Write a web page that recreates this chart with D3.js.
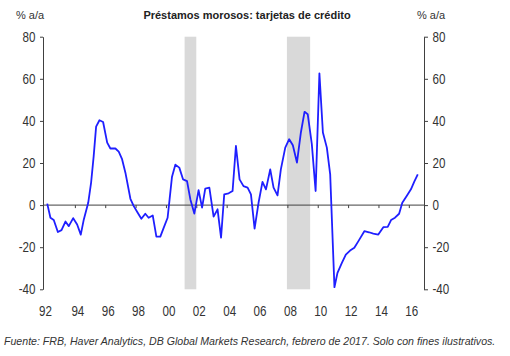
<!DOCTYPE html>
<html><head><meta charset="utf-8">
<script src="https://cdn.jsdelivr.net/npm/d3@7"></script>
<style>
html,body{margin:0;padding:0;background:#fff;}
svg{display:block;}
</style>
</head><body>
<script>
// ---- data ----
const years = [1992.18,1992.39,1992.61,1992.88,1993.12,1993.38,1993.60,1993.89,1994.15,1994.39,1994.59,1994.88,
1995.07,1995.24,1995.40,1995.62,1995.86,1996.13,1996.34,1996.67,1996.89,1997.11,1997.33,1997.66,1997.88,
1998.14,1998.38,1998.64,1998.86,1999.13,1999.37,1999.63,1999.85,2000.11,2000.24,2000.40,2000.62,2000.88,
2001.13,2001.39,2001.61,2001.87,2002.15,2002.38,2002.59,2002.86,2003.14,2003.40,2003.63,2003.84,
2004.13,2004.39,2004.61,2004.85,2005.11,2005.38,2005.60,2005.84,2006.10,2006.36,2006.59,2006.87,
2007.09,2007.35,2007.57,2007.86,2008.12,2008.36,2008.63,2008.89,2009.13,2009.34,2009.61,2009.86,
2010.11,2010.34,2010.60,2010.82,2011.10,2011.30,2011.59,2011.85,2012.13,2012.41,2012.68,
2013.07,2013.38,2013.66,2013.99,2014.32,2014.61,2014.83,2015.09,2015.36,2015.57,2015.86,
2016.14,2016.36,2016.59];
const values = [0.7,-6,-7.1,-12.8,-11.9,-7.8,-10,-6.2,-9.2,-14,-6.8,1.1,
10.7,23.3,37.3,40.3,39.5,29.7,26.9,26.9,25.4,21.8,15.4,3,-0.5,
-3.6,-6.5,-4.1,-6,-4.9,-15,-15,-10.8,-6,2.7,13.5,19.2,17.8,
12.2,11.4,2.7,-4,7.1,-1.2,7.8,8.3,-5.5,-2,-15.5,5.1,
5.6,6.7,28.1,12.2,9,8.3,5.1,-11.2,1.1,11,7.5,17,
8.3,4.6,17,27.3,31.3,28.4,20.2,34.5,44.3,43.2,29,6.7,
62.6,34.5,27.3,14.6,-39,-32.2,-27.4,-23.5,-21.6,-20.3,-17.1,
-12.4,-12.9,-13.5,-14,-10.5,-10.3,-7.1,-6,-4.1,1.1,4.3,
7.5,11.1,14.6];
const recessionStart = [2001.23, 2007.97];
const recessionEnd   = [2002.0, 2009.5];
const xTickYears = [1992,1994,1996,1998,2000,2002,2004,2006,2008,2010,2012,2014,2016];
const xTickLabels = ["92","94","96","98","00","02","04","06","08","10","12","14","16"];
const yTicks = [-40,-20,0,20,40,60,80];
const yTickLabels = ["-40","-20","0","20","40","60","80"];
const title = "Préstamos morosos: tarjetas de crédito";
const unitLabel = "% a/a";
const source = "Fuente: FRB, Haver Analytics, DB Global Markets Research, febrero de 2017. Solo con fines ilustrativos.";

// ---- layout ----
const W = 510, H = 356;
const leftX = 43, rightX = 424;
const x = d3.scaleLinear().domain([1992, 2017]).range([44.5, 424]);
const y = d3.scaleLinear().domain([-40, 80]).range([289.3, 36.7]);
const sans = "'Liberation Sans',Arial,sans-serif";
const axisColor = "#404040";
const textColor = "#333";
const squeeze = 0.83; // emulate a narrow face

const svg = d3.select("body").append("svg").attr("width", W).attr("height", H);

// recession shading
svg.append("g").selectAll("rect").data(recessionStart).join("rect")
  .attr("x", (d) => x(d))
  .attr("width", (d, i) => x(recessionEnd[i]) - x(d))
  .attr("y", y(80))
  .attr("height", y(-40) - y(80))
  .attr("fill", "#d9d9d9");

// left axis
const gL = svg.append("g").attr("transform", `translate(${leftX},0)`)
  .call(d3.axisLeft(y).tickValues(yTicks).tickSize(3).tickFormat("").tickSizeOuter(0));
// right axis
const gR = svg.append("g").attr("transform", `translate(${rightX},0)`)
  .call(d3.axisRight(y).tickValues(yTicks).tickSize(4).tickFormat("").tickSizeOuter(0));
[gL, gR].forEach(g => {
  g.select(".domain").attr("stroke", axisColor);
  g.selectAll(".tick line").attr("stroke", axisColor);
});

function narrowText(g, data, px, py, anchor, label) {
  g.selectAll("text").data(data).join("text")
    .attr("transform", (d, i) => `translate(${px(d, i)},${py(d, i)}) scale(${squeeze},1)`)
    .attr("text-anchor", anchor)
    .attr("fill", textColor)
    .style("font-family", sans).style("font-size", "14px")
    .text(label);
}
narrowText(svg.append("g"), yTicks, () => 35.5, (d) => y(d) + 5, "end", (d, i) => yTickLabels[i]);
narrowText(svg.append("g"), yTicks, () => 432.5, (d) => y(d) + 5, "start", (d, i) => yTickLabels[i]);

// zero line with x axis ticks
const gX = svg.append("g").attr("transform", `translate(0,${y(0)})`)
  .call(d3.axisBottom(x).tickValues(xTickYears.slice(1)).tickSize(3).tickFormat("").tickSizeOuter(0));
gX.select(".domain").attr("d", `M${leftX},0H${rightX}`).attr("stroke", axisColor);
gX.selectAll(".tick line").attr("stroke", axisColor);

// x tick labels at the bottom
narrowText(svg.append("g"), xTickYears, (d) => x(d) + (d === 1992 ? 1 : 3), () => 316, "middle",
  (d, i) => xTickLabels[i]);

// line
const line = d3.line().x((d, i) => x(years[i])).y((d) => y(d));
svg.append("path").datum(values)
  .attr("d", line)
  .attr("fill", "none")
  .attr("stroke", "#1f1fff")
  .attr("stroke-width", 1.8)
  .attr("stroke-linejoin", "round");

// texts
svg.append("text").attr("x", 247).attr("y", 19).attr("text-anchor", "middle")
  .attr("fill", "#222").style("font-family", sans).style("font-size", "11px").style("font-weight", "bold")
  .text(title);
svg.append("text").attr("x", 16).attr("y", 19).attr("fill", textColor)
  .style("font-family", sans).style("font-size", "11px").text(unitLabel);
svg.append("text").attr("x", 417).attr("y", 19).attr("fill", textColor)
  .style("font-family", sans).style("font-size", "11px").text(unitLabel);
svg.append("text").attr("x", 4).attr("y", 345).attr("fill", textColor)
  .style("font-family", sans).style("font-size", "10.6px").style("font-style", "italic")
  .text(source);
</script>
</body></html>
